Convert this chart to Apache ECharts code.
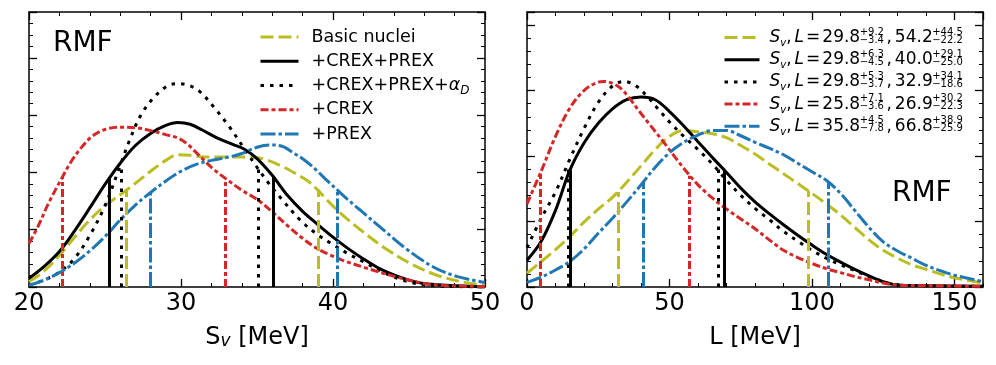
<!DOCTYPE html>
<html>
<head>
<meta charset="utf-8">
<script src="https://cdn.jsdelivr.net/npm/echarts@6/dist/echarts.min.js"></script>
<style>
html,body{margin:0;padding:0;background:#fff;}
#chart{width:996px;height:365px;}
</style>
</head>
<body>
<div id="chart"></div>
<script>
// ---- S_v panel (posterior densities, arbitrary units) ----
var svBasic = [[20,0.09],[21,0.28],[22,0.55],[23,0.87],[24,1.17],[25,1.42],[26,1.61],[27,1.81],[28,2.02],[29,2.21],[29.8,2.31],[30.6,2.3],[31.5,2.27],[33,2.27],[34.6,2.27],[35.6,2.22],[36.7,2.1],[37.6,1.97],[38.4,1.84],[39,1.69],[39.6,1.52],[40.2,1.36],[41,1.17],[41.8,1.0],[43.3,0.7],[45.1,0.41],[46.8,0.21],[48.5,0.09],[50,0.03]];
var svCP = [[20,0.15],[21,0.36],[22,0.62],[23,0.98],[24,1.38],[25,1.79],[26,2.16],[27,2.47],[28,2.68],[29,2.82],[29.8,2.87],[30.6,2.84],[31.4,2.74],[32.4,2.6],[33.4,2.49],[34.2,2.4],[35,2.24],[36,1.95],[37,1.6],[38,1.32],[39,1.09],[40,0.87],[41,0.67],[42,0.49],[43,0.33],[44,0.21],[45,0.12],[46,0.06],[47.5,0.03],[50,0]];
var svCPA = [[20,0.03],[21,0.12],[22,0.26],[23,0.5],[24,0.9],[25,1.42],[26,2.12],[26.6,2.55],[27.4,3.02],[28.4,3.36],[29.2,3.52],[29.8,3.55],[30.5,3.52],[31.2,3.42],[32.1,3.16],[33.2,2.79],[34.1,2.44],[35,2.09],[35.8,1.8],[36.7,1.51],[37.8,1.18],[38.9,0.93],[40,0.74],[41,0.58],[42,0.44],[43.3,0.26],[44.6,0.12],[46.2,0.03],[50,0]];
var svC = [[20,0.76],[20.6,1.06],[21.3,1.47],[22.2,1.92],[22.8,2.2],[23.5,2.45],[24.2,2.64],[25,2.75],[26,2.79],[27,2.78],[28,2.73],[29,2.66],[29.8,2.6],[30.4,2.5],[31.1,2.32],[32,2.09],[32.9,1.9],[34,1.69],[35,1.53],[36,1.31],[37.1,1.05],[38,0.85],[38.9,0.68],[39.8,0.56],[40.6,0.47],[42.2,0.33],[44.4,0.16],[46.6,0.04],[50,0.01]];
var svP = [[20,0.03],[21,0.12],[22,0.25],[23,0.42],[24,0.63],[25,0.88],[26,1.17],[27,1.43],[28,1.65],[29,1.85],[30,2.02],[31,2.14],[32,2.21],[33,2.26],[34,2.33],[35,2.44],[35.8,2.48],[36.6,2.46],[37.4,2.34],[38.2,2.2],[38.9,2.04],[39.6,1.86],[40.3,1.69],[41,1.52],[41.8,1.34],[43.3,1.0],[44.9,0.65],[46.6,0.35],[48.2,0.18],[50,0.08]];

// ---- L panel ----
var lBasic = [[0,0.21],[5,0.39],[10,0.57],[15,0.77],[20,0.99],[25,1.19],[30,1.37],[35,1.6],[40,1.85],[45,2.1],[50,2.3],[55,2.39],[60,2.37],[65,2.34],[70,2.28],[75,2.16],[80,2.03],[85,1.88],[90,1.73],[95,1.58],[100,1.43],[105,1.27],[110,1.1],[115,0.91],[120,0.72],[125,0.56],[130,0.44],[135,0.34],[140,0.27],[145,0.2],[150,0.14],[155,0.1],[160,0.06]];
var lCP = [[0,0.41],[5,0.7],[10,1.17],[15,1.78],[20,2.2],[25,2.5],[30,2.72],[35,2.86],[40,2.9],[45,2.86],[50,2.68],[55,2.46],[60,2.22],[65,1.98],[70,1.75],[75,1.51],[80,1.3],[85,1.12],[90,0.95],[95,0.79],[100,0.64],[105,0.5],[110,0.38],[115,0.27],[120,0.17],[125,0.08],[130,0.03],[140,0.02],[160,0.01]];
var lCPA = [[0,0.6],[5,1.05],[10,1.45],[15,1.95],[20,2.42],[25,2.82],[30,3.07],[34,3.14],[38,3.08],[42,2.92],[46,2.72],[50,2.52],[55,2.3],[60,2.1],[65,1.88],[70,1.63],[75,1.4],[80,1.2],[85,1.03],[90,0.85],[95,0.7],[100,0.56],[105,0.44],[110,0.34],[115,0.25],[120,0.16],[125,0.08],[130,0.03],[140,0.02],[160,0.01]];
var lC = [[0,1.27],[5,1.77],[10,2.3],[15,2.73],[20,3.0],[25,3.13],[27,3.14],[30,3.11],[33,3.03],[36,2.88],[40,2.65],[44,2.43],[48,2.21],[52,1.98],[56,1.76],[60,1.56],[65,1.36],[70,1.19],[75,1.04],[80,0.89],[85,0.72],[90,0.56],[95,0.45],[100,0.36],[105,0.28],[110,0.22],[115,0.16],[120,0.11],[125,0.06],[130,0.03],[140,0.02],[160,0.01]];
var lP = [[0,0.07],[5,0.15],[10,0.26],[15,0.39],[20,0.58],[25,0.82],[30,1.05],[35,1.3],[40,1.56],[45,1.83],[50,2.05],[55,2.21],[60,2.32],[65,2.39],[70,2.39],[75,2.31],[80,2.21],[85,2.12],[90,2.02],[95,1.89],[100,1.76],[105,1.63],[110,1.43],[115,1.17],[120,0.91],[125,0.69],[130,0.55],[135,0.44],[140,0.33],[145,0.25],[150,0.18],[155,0.13],[160,0.08]];

// ---- medians and 68% intervals (from the legend) ----
var svMid = [29.8, 29.8, 29.8, 25.8, 35.8];
var svPlus = [9.2, 6.3, 5.3, 7.1, 4.5];
var svMinus = [3.4, 4.5, 3.7, 3.6, 7.8];
var lMid = [54.2, 40.0, 32.9, 26.9, 66.8];
var lPlus = [44.5, 29.1, 34.1, 30.2, 38.9];
var lMinus = [22.2, 25.0, 18.6, 22.3, 25.9];
// heights of the interval edge lines
var svLoH = [1.68, 1.92, 2.15, 1.92, 1.64];
var svHiH = [1.7, 1.92, 2.09, 1.9, 1.69];
var lLoH = [1.45, 1.79, 1.88, 1.73, 1.61];
var lHiH = [1.47, 1.79, 1.81, 1.7, 1.61];

var names = ['Basic nuclei', '+CREX+PREX', '+CREX+PREX+αD', '+CREX', '+PREX'];
var colors = ['#bcbd22', '#000000', '#000000', '#d62728', '#1f77b4'];
var dashes = [[13, 5], 'solid', [3.5, 6], [8, 3, 4, 3], [15, 3, 3.5, 3]];
var xTicksSv = [20, 50, 10, 2];
var xTicksL = [0, 160, 50, 10];

var FONT = 'DejaVu Sans';
var dom = document.getElementById('chart');
var myChart = echarts.init(dom, null, {renderer: 'canvas'});

var ctx = document.createElement('canvas').getContext('2d');
function tw(txt, size, italic) {
    ctx.font = (italic ? 'italic ' : '') + 'normal ' + size + 'px ' + FONT;
    return ctx.measureText(txt).width;
}
function fmt(v) { return v.toFixed(1); }
function ext(a, b) { return Object.assign({}, a, b); }

// x axes: bottom major/minor, top major/minor
function xAxes(grid, t, label, showMax) {
    var base = {type: 'value', gridIndex: grid, min: t[0], max: t[1], splitLine: {show: false}};
    return [
        ext(base, {position: 'bottom', interval: t[2],
            axisLine: {show: true, onZero: false, lineStyle: {color: '#000', width: 1.5}},
            axisTick: {inside: true, length: 8, lineStyle: {color: '#000', width: 1.3}},
            axisLabel: {show: true, fontSize: 24, fontFamily: FONT, color: '#000', margin: 5, showMinLabel: true, showMaxLabel: showMax},
            name: label, nameLocation: 'middle', nameGap: 39,
            nameTextStyle: {fontSize: 24, fontFamily: FONT, color: '#000',
                rich: {
                    a: {fontSize: 24, fontFamily: FONT, color: '#000', lineHeight: 24},
                    s: {fontSize: 17, fontFamily: FONT, fontStyle: 'italic', color: '#000', lineHeight: 14, verticalAlign: 'bottom'}
                }}
        }),
        ext(base, {position: 'bottom', interval: t[3],
            axisLine: {show: false, onZero: false},
            axisTick: {inside: true, length: 4, lineStyle: {color: '#000', width: 1}},
            axisLabel: {show: false}}),
        ext(base, {position: 'top', interval: t[2],
            axisLine: {show: true, onZero: false, lineStyle: {color: '#000', width: 1.5}},
            axisTick: {inside: true, length: 8, lineStyle: {color: '#000', width: 1.3}},
            axisLabel: {show: false}}),
        ext(base, {position: 'top', interval: t[3],
            axisLine: {show: false, onZero: false},
            axisTick: {inside: true, length: 4, lineStyle: {color: '#000', width: 1}},
            axisLabel: {show: false}})
    ];
}
function yAxes(grid, max) {
    var out = [];
    ['left', 'right'].forEach(function (pos) {
        out.push({type: 'value', gridIndex: grid, position: pos, min: 0, max: max, interval: 1,
            splitLine: {show: false},
            axisLine: {show: true, onZero: false, lineStyle: {color: '#000', width: 1.5}},
            axisTick: {inside: true, length: 8, lineStyle: {color: '#000', width: 1.3}},
            axisLabel: {show: false}});
        out.push({type: 'value', gridIndex: grid, position: pos, min: 0, max: max, interval: 0.2,
            splitLine: {show: false},
            axisLine: {show: false, onZero: false},
            axisTick: {inside: true, length: 4, lineStyle: {color: '#000', width: 1}},
            axisLabel: {show: false}});
    });
    return out;
}

function curve(name, data, i, lo, hi, hLo, hHi, axisIdx) {
    var ls = {color: colors[i], width: 3, type: dashes[i], cap: 'butt'};
    return {
        name: name, type: 'line', xAxisIndex: axisIdx, yAxisIndex: axisIdx,
        data: data, smooth: 0.35, symbol: 'none', showSymbol: false,
        lineStyle: ls, itemStyle: {color: colors[i]},
        emphasis: {disabled: true},
        markLine: {
            silent: true, symbol: ['none', 'none'], label: {show: false},
            lineStyle: ls, animation: false,
            emphasis: {disabled: true},
            data: [
                [{coord: [lo, 0]}, {coord: [lo, hLo]}],
                [{coord: [hi, 0]}, {coord: [hi, hHi]}]
            ]
        }
    };
}

var svData = [svBasic, svCP, svCPA, svC, svP];
var lData = [lBasic, lCP, lCPA, lC, lP];
var series = [];
var lNames = [];
svData.forEach(function (d, i) {
    series.push(curve(names[i], d, i, svMid[i] - svMinus[i], svMid[i] + svPlus[i], svLoH[i], svHiH[i], 0));
});
lData.forEach(function (d, i) {
    lNames.push('L' + i);
    series.push(curve('L' + i, d, i, lMid[i] - lMinus[i], lMid[i] + lPlus[i], lLoH[i], lHiH[i], 4));
});

// ---- legends: one component per row so rows sit where we want ----
var IH = 14;
var leftRich = {
    f: {fontSize: 17.5, fontFamily: FONT, color: '#000', padding: [0, 0, 0, 8], lineHeight: IH},
    g: {fontSize: 17.5, fontFamily: FONT, fontStyle: 'italic', color: '#000', lineHeight: IH},
    d: {fontSize: 12, fontFamily: FONT, fontStyle: 'italic', color: '#000', lineHeight: 8, verticalAlign: 'bottom', padding: [0, 0, -4, 0]}
};
var MS = 17, SS = 10;
var lgLeft = 723, lgW = 35;
var gapA = 0, gapB = 0;
svMid.forEach(function (v, i) {
    gapA = Math.max(gapA, tw('+' + fmt(svPlus[i]), SS), tw('\u2212' + fmt(svMinus[i]), SS));
    gapB = Math.max(gapB, tw('+' + fmt(lPlus[i]), SS), tw('\u2212' + fmt(lMinus[i]), SS));
});
gapA += 2; gapB += 1;
var rightRich = {
    a: {fontSize: MS, fontFamily: FONT, fontStyle: 'italic', color: '#000', padding: [0, 0, 0, 5], lineHeight: IH},
    b: {fontSize: SS, fontFamily: FONT, fontStyle: 'italic', color: '#000', lineHeight: 8, verticalAlign: 'bottom', padding: [0, 0, -4, 0]},
    c: {fontSize: MS, fontFamily: FONT, color: '#000', lineHeight: IH},
    d: {fontSize: MS, fontFamily: FONT, fontStyle: 'italic', color: '#000', padding: [0, 0, 0, 3], lineHeight: IH},
    e: {fontSize: MS, fontFamily: FONT, color: '#000', padding: [0, 2, 0, 2], lineHeight: IH},
    f: {fontSize: MS, fontFamily: FONT, color: '#000', padding: [0, 0, 0, 3], lineHeight: IH},
    g: {fontSize: MS, fontFamily: FONT, width: gapA, lineHeight: IH},
    h: {fontSize: MS, fontFamily: FONT, width: gapB, lineHeight: IH}
};
var tx0 = lgLeft + lgW + 5 + 5;
var xA = tx0 + tw('S', MS, true) + tw('v', SS, true) + tw(',', MS) + 3 + tw('L', MS, true) + 4 + tw('=', MS) + tw(fmt(svMid[0]), MS);
var xB = xA + gapA + tw(',', MS) + 3 + tw(fmt(lMid[0]), MS);

function legendRow(name, yc, left, w, rich, fmtFn) {
    return {
        data: [name], left: left, top: yc - IH / 2, orient: 'vertical', padding: 0,
        itemWidth: w, itemHeight: IH, itemGap: 0, selectedMode: false,
        lineStyle: {width: 3}, itemStyle: {opacity: 0},
        formatter: fmtFn,
        textStyle: {fontSize: 17, fontFamily: FONT, color: '#000', rich: rich}
    };
}
var legends = [];
names.forEach(function (n, i) {
    legends.push(legendRow(n, 35 + i * 24.25, 259, 38, leftRich, function (s) {
        if (s === names[2]) return '{f|+CREX+PREX+}{g|\u03b1}{d|D}';
        return '{f|' + s + '}';
    }));
});
var rightRows = [];
lNames.forEach(function (n, i) {
    var yc = 36 + i * 22.2;
    rightRows.push(yc);
    legends.push(legendRow(n, yc, lgLeft, lgW, rightRich, function () {
        return '{a|S}{b|v}{c|,}{d|L}{e|=}{c|' + fmt(svMid[i]) + '}{g|\u00a0}{c|,}{f|' + fmt(lMid[i]) + '}{h|\u00a0}';
    }));
});

var graphics = [
    {type: 'text', x: 53, y: 44, style: {text: 'RMF', fontSize: 28, fontFamily: FONT, fill: '#000', verticalAlign: 'middle'}},
    {type: 'text', x: 892, y: 194, style: {text: 'RMF', fontSize: 28, fontFamily: FONT, fill: '#000', verticalAlign: 'middle'}}
];
function sc(x, y, t) {
    return {type: 'text', x: x, y: y, z: 100, style: {text: t, fontSize: SS, fontFamily: FONT, fill: '#000', verticalAlign: 'middle'}};
}
rightRows.forEach(function (yc, i) {
    graphics.push(sc(xA + 1, yc - 4, '+' + fmt(svPlus[i])));
    graphics.push(sc(xA + 1, yc + 4, '\u2212' + fmt(svMinus[i])));
    graphics.push(sc(xB + 1, yc - 4, '+' + fmt(lPlus[i])));
    graphics.push(sc(xB + 1, yc + 4, '\u2212' + fmt(lMinus[i])));
});

var option = {
    animation: false,
    backgroundColor: '#fff',
    grid: [
        {left: 29, top: 12, width: 456, height: 275, outerBoundsMode: 'none'},
        {left: 527, top: 12, width: 456, height: 275, outerBoundsMode: 'none'}
    ],
    xAxis: xAxes(0, xTicksSv, '{a|S}{s|v}{a| [MeV]}', true).concat(xAxes(1, xTicksL, '{a|L [MeV]}', false)),
    yAxis: yAxes(0, 4.8).concat(yAxes(1, 4.2)),
    legend: legends,
    graphic: graphics,
    series: series
};

myChart.setOption(option);
</script>
</body>
</html>
